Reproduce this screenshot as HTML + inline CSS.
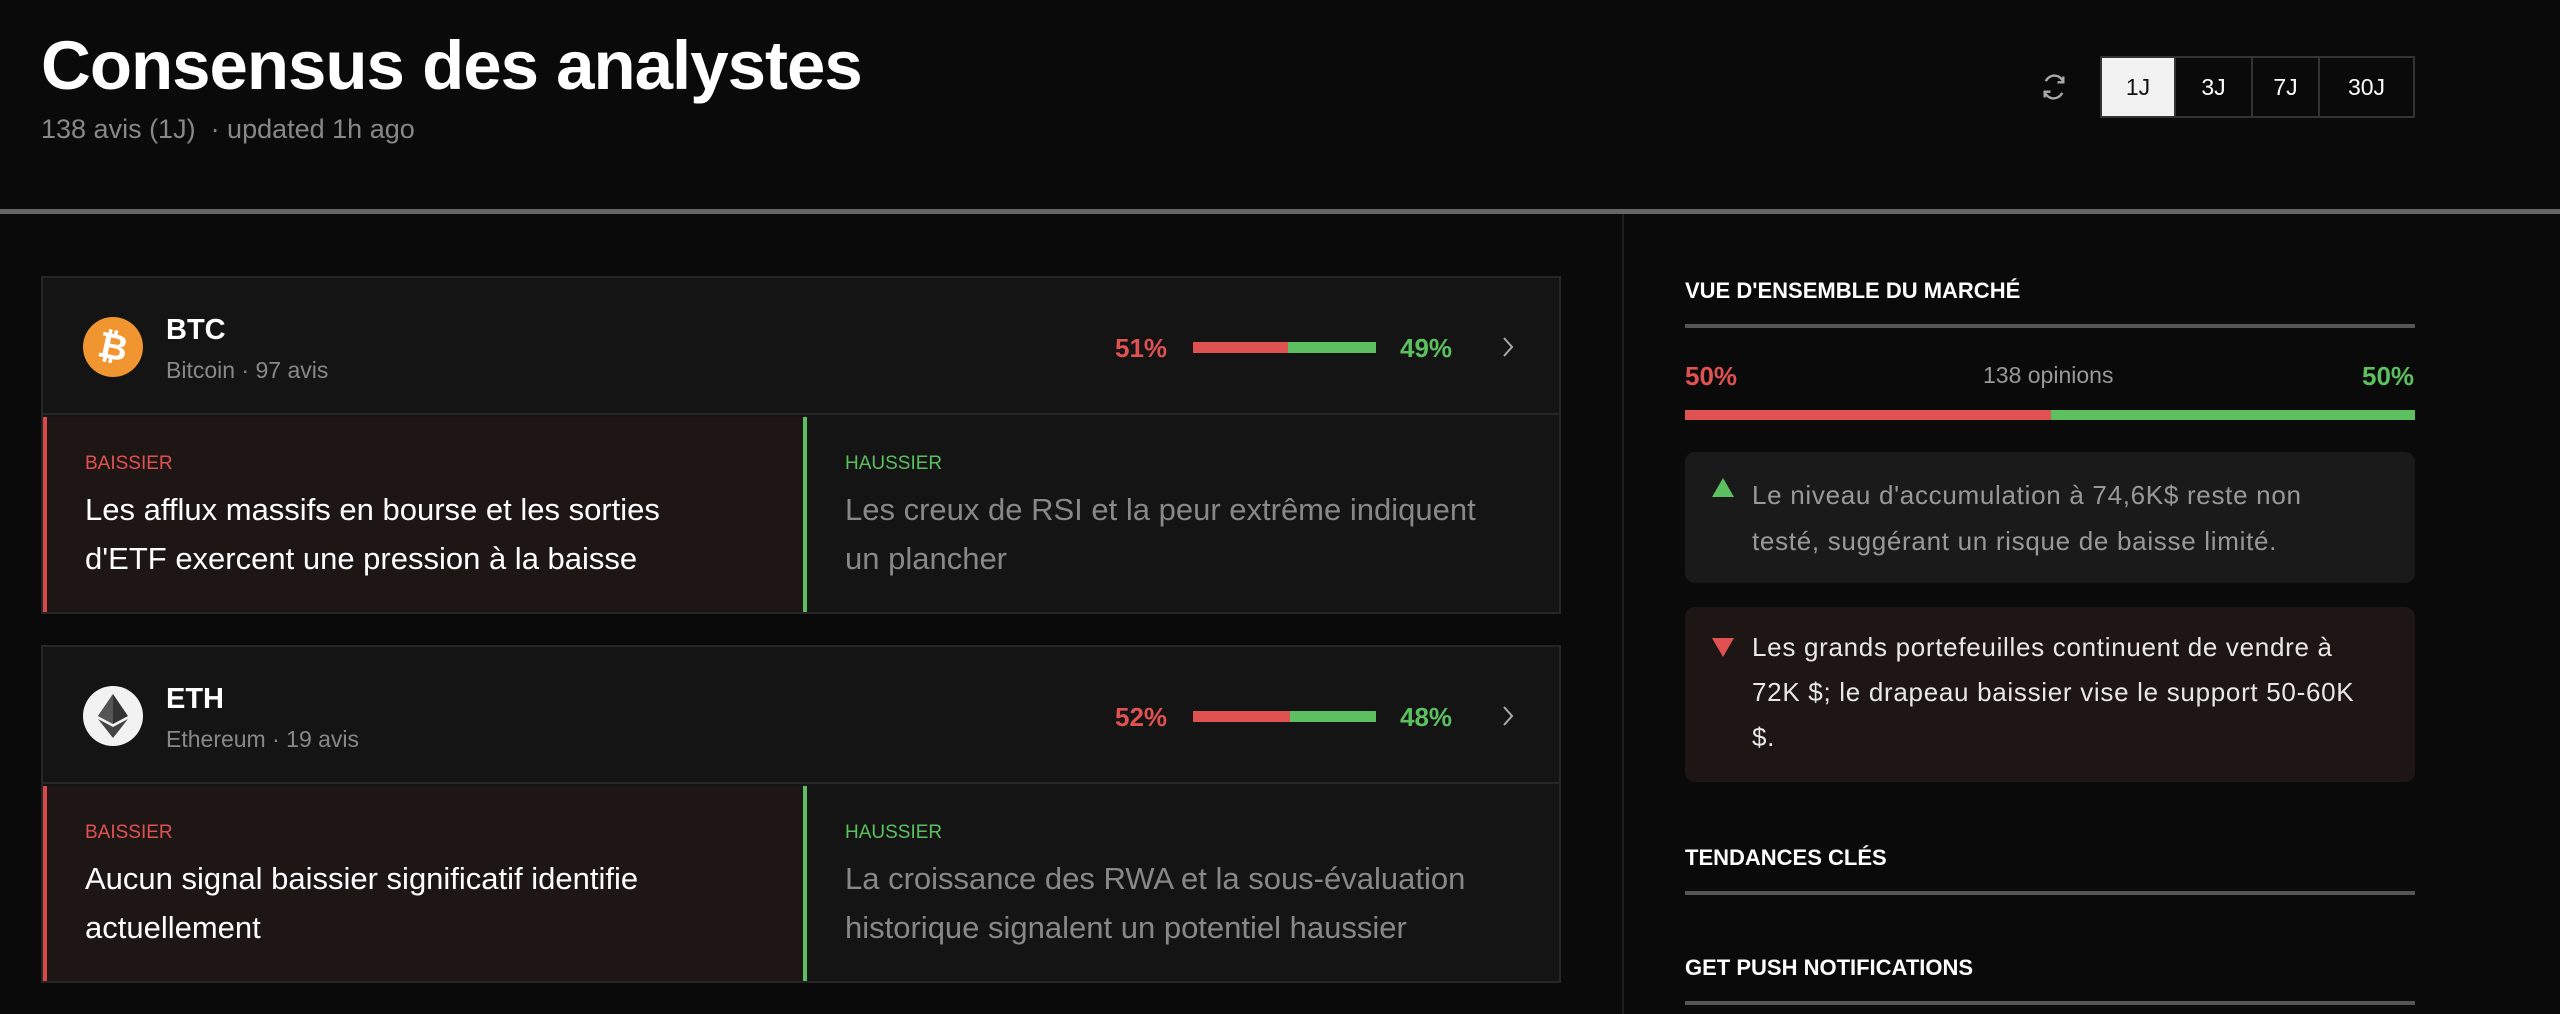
<!DOCTYPE html>
<html><head><meta charset="utf-8"><style>
*{margin:0;padding:0;box-sizing:border-box}
body{width:2560px;height:1009px;background:#0a0a0a;font-family:"Liberation Sans",sans-serif;color:#fff;position:relative;overflow:hidden}
.a{position:absolute;white-space:nowrap}
.card{position:absolute;left:41px;width:1520px;background:#141414;border:2px solid #262626}
.hdr{position:absolute;left:0;top:0;width:100%;height:137px;border-bottom:2px solid #262626}
.bear{position:absolute;left:0;top:139px;width:760px;bottom:0;background:#1e1515;border-left:4px solid #d84a4a}
.bull{position:absolute;left:760px;top:139px;right:0;bottom:0;border-left:4px solid #5cc060}
.lbl{position:absolute;left:38px;top:36px;font-size:19px}
.txt{position:absolute;left:38px;top:68px;font-size:31px;line-height:49px;white-space:nowrap}
.sec{position:absolute;left:1685px;width:730px;font-size:22px;font-weight:bold;border-bottom:4px solid #555;padding-bottom:20px}
</style></head><body>
<div class="a" style="left:41px;top:26px;font-size:69px;font-weight:bold;letter-spacing:-1px">Consensus des analystes</div>
<div class="a" style="left:41px;top:114px;font-size:27px;color:#888">138 avis (1J) &nbsp;· updated 1h ago</div>

<svg class="a" style="left:2040px;top:73px" width="28" height="28" viewBox="0 0 24 24" fill="none" stroke="#aaa" stroke-width="2"><path d="M20 8a8 8 0 0 0-15-1M4 16a8 8 0 0 0 15 1"/><path d="M20 3v5h-5M4 21v-5h5"/></svg>
<div class="a" style="left:2100px;top:56px;width:315px;height:62px;border:2px solid #333;display:flex;font-size:23px">
<div style="width:72px;background:#f2f2f2;color:#111;display:flex;align-items:center;justify-content:center">1J</div>
<div style="width:77px;border-left:2px solid #333;display:flex;align-items:center;justify-content:center">3J</div>
<div style="width:67px;border-left:2px solid #333;display:flex;align-items:center;justify-content:center">7J</div>
<div style="flex:1;border-left:2px solid #333;display:flex;align-items:center;justify-content:center">30J</div>
</div>

<div class="a" style="left:0;top:209px;width:2560px;height:5px;background:#666"></div>
<div class="a" style="left:1622px;top:214px;width:2px;height:800px;background:#1e1e1e"></div>

<!-- BTC -->
<div class="card" style="top:276px;height:338px">
<div class="hdr">
<div class="a" style="left:40px;top:39px;width:60px;height:60px;border-radius:50%;background:#f0952f;color:#fff;font-size:36px;font-weight:bold;display:flex;align-items:center;justify-content:center;transform:rotate(12deg)">₿</div>
<div class="a" style="left:123px;top:36px;font-size:29px;font-weight:bold">BTC</div>
<div class="a" style="left:123px;top:79px;font-size:23px;color:#888">Bitcoin · 97 avis</div>
<div class="a" style="left:1072px;top:55px;font-size:26px;font-weight:bold;color:#e05252">51%</div>
<div class="a" style="left:1150px;top:64px;width:95px;height:11px;background:#e05252"></div>
<div class="a" style="left:1245px;top:64px;width:88px;height:11px;background:#5cc060"></div>
<div class="a" style="left:1357px;top:55px;font-size:26px;font-weight:bold;color:#5cc060">49%</div>
<svg class="a" style="left:1458px;top:58px" width="14" height="22" viewBox="0 0 14 22"><path d="M3 2l8 9-8 9" fill="none" stroke="#aaa" stroke-width="2"/></svg>
</div>
<div class="bear"><div class="lbl" style="color:#e05252">BAISSIER</div><div class="txt">Les afflux massifs en bourse et les sorties<br>d'ETF exercent une pression à la baisse</div></div>
<div class="bull"><div class="lbl" style="color:#5cc060">HAUSSIER</div><div class="txt" style="color:#888">Les creux de RSI et la peur extrême indiquent<br>un plancher</div></div>
</div>

<!-- ETH -->
<div class="card" style="top:645px;height:338px">
<div class="hdr">
<div class="a" style="left:40px;top:39px;width:60px;height:60px;border-radius:50%;background:#f2f2f2"></div>
<svg class="a" style="left:55px;top:47px" width="30" height="44" viewBox="0 0 30 44"><polygon points="15,0 30,22 15,30 0,22" fill="#333"/><polygon points="15,0 15,30 0,22" fill="#555"/><polygon points="15,33 30,25 15,44 0,25" fill="#444"/></svg>
<div class="a" style="left:123px;top:36px;font-size:29px;font-weight:bold">ETH</div>
<div class="a" style="left:123px;top:79px;font-size:23px;color:#888">Ethereum · 19 avis</div>
<div class="a" style="left:1072px;top:55px;font-size:26px;font-weight:bold;color:#e05252">52%</div>
<div class="a" style="left:1150px;top:64px;width:97px;height:11px;background:#e05252"></div>
<div class="a" style="left:1247px;top:64px;width:86px;height:11px;background:#5cc060"></div>
<div class="a" style="left:1357px;top:55px;font-size:26px;font-weight:bold;color:#5cc060">48%</div>
<svg class="a" style="left:1458px;top:58px" width="14" height="22" viewBox="0 0 14 22"><path d="M3 2l8 9-8 9" fill="none" stroke="#aaa" stroke-width="2"/></svg>
</div>
<div class="bear"><div class="lbl" style="color:#e05252">BAISSIER</div><div class="txt">Aucun signal baissier significatif identifie<br>actuellement</div></div>
<div class="bull"><div class="lbl" style="color:#5cc060">HAUSSIER</div><div class="txt" style="color:#888">La croissance des RWA et la sous-évaluation<br>historique signalent un potentiel haussier</div></div>
</div>

<!-- right -->
<div class="sec" style="top:278px">VUE D'ENSEMBLE DU MARCHÉ</div>
<div class="a" style="left:1685px;top:361px;font-size:26px;font-weight:bold;color:#e05252">50%</div>
<div class="a" style="left:1983px;top:362px;font-size:23px;color:#999">138 opinions</div>
<div class="a" style="left:2362px;top:361px;font-size:26px;font-weight:bold;color:#5cc060">50%</div>
<div class="a" style="left:1685px;top:410px;width:366px;height:10px;background:#e05252"></div>
<div class="a" style="left:2051px;top:410px;width:364px;height:10px;background:#5cc060"></div>

<div class="a" style="left:1685px;top:452px;width:730px;height:131px;background:#1a1a1a;border-radius:10px">
<div class="a" style="left:27px;top:26px;width:0;height:0;border-left:11px solid transparent;border-right:11px solid transparent;border-bottom:19px solid #5cc060"></div>
<div class="a" style="left:67px;top:20px;font-size:26px;line-height:46px;color:#999;letter-spacing:0.7px">Le niveau d'accumulation à 74,6K$ reste non<br>testé, suggérant un risque de baisse limité.</div>
</div>
<div class="a" style="left:1685px;top:607px;width:730px;height:175px;background:#1e1515;border-radius:10px">
<div class="a" style="left:27px;top:31px;width:0;height:0;border-left:11px solid transparent;border-right:11px solid transparent;border-top:19px solid #e05252"></div>
<div class="a" style="left:67px;top:18px;font-size:26px;line-height:45px;color:#e8e8e8;letter-spacing:0.7px">Les grands portefeuilles continuent de vendre à<br>72K $; le drapeau baissier vise le support 50-60K<br>$.</div>
</div>

<div class="sec" style="top:845px">TENDANCES CLÉS</div>
<div class="sec" style="top:955px">GET PUSH NOTIFICATIONS</div>
</body></html>
